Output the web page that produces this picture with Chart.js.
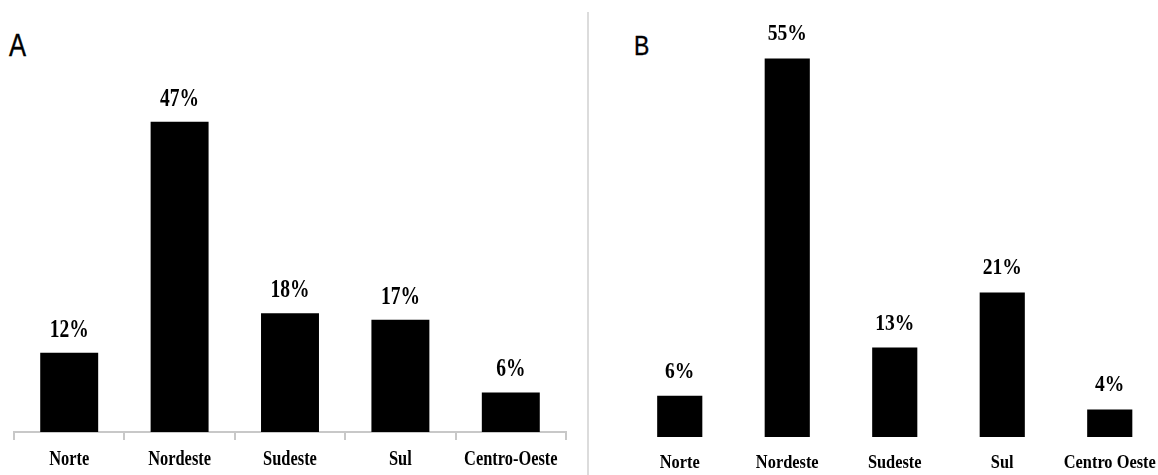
<!DOCTYPE html>
<html>
<head>
<meta charset="utf-8">
<script src="https://cdn.jsdelivr.net/npm/chart.js@4/dist/chart.umd.min.js"></script>
<style>
  body { margin: 0; width: 1158px; height: 475px; overflow: hidden; background: #fff; position: relative; }
  canvas { position: absolute; top: 0; }
  #chartA { left: 0; }
  #chartB { left: 590px; }
  .divider { position: absolute; left: 587px; top: 12px; width: 2px; height: 463px; background: #dcdcdc; }
  .panel { position: absolute; font-family: "Liberation Sans", sans-serif; color: #000; transform-origin: left top; line-height: 1; }
  #panelA { left: 9px; top: 29px; font-size: 32px; transform: scaleX(0.8); -webkit-text-stroke: 0.4px #000; }
  #panelB { left: 634px; top: 32px; font-size: 28px; transform: scaleX(0.82); -webkit-text-stroke: 0.4px #000; }
</style>
</head>
<body>
<div class="divider"></div>
<div class="panel" id="panelA">A</div>
<div class="panel" id="panelB">B</div>
<canvas id="chartA" width="590" height="475"></canvas>
<canvas id="chartB" width="580" height="475"></canvas>
<script>
var categoriesA = ["Norte", "Nordeste", "Sudeste", "Sul", "Centro-Oeste"];
var valuesA = [12, 47, 18, 17, 6];
var categoriesB = ["Norte", "Nordeste", "Sudeste", "Sul", "Centro Oeste"];
var valuesB = [6, 55, 13, 21, 4];

// draws a narrowed (condensed-looking) string, like the bold Times of the original
function drawNarrow(ctx, text, x, y, font, squeeze) {
  ctx.save();
  ctx.translate(x, y);
  ctx.scale(squeeze, 1);
  ctx.font = font;
  ctx.fillText(text, 0, 0);
  ctx.restore();
}

var barLabels = {
  id: "barLabels",
  afterDatasetsDraw: function (chart, args, opts) {
    var ctx = chart.ctx;
    var meta = chart.getDatasetMeta(0);
    var xScale = chart.scales.x;
    var data = chart.data.datasets[0].data;
    ctx.save();
    ctx.fillStyle = "#000";
    ctx.textAlign = "center";
    ctx.textBaseline = "alphabetic";
    meta.data.forEach(function (bar, i) {
      drawNarrow(ctx, data[i] + "%", bar.x, bar.y - opts.valueGap, opts.valueFont, opts.valueSqueeze);
      drawNarrow(ctx, chart.data.labels[i], xScale.getPixelForValue(i), opts.labelY, opts.labelFont, opts.labelSqueeze);
    });
    ctx.restore();
  },
};

function drawBarChart(canvasId, labels, values, opts) {
  var ctx = document.getElementById(canvasId);
  new Chart(ctx, {
    type: "bar",
    data: {
      labels: labels,
      datasets: [
        {
          data: values,
          backgroundColor: "#000",
          borderWidth: 0,
          barPercentage: opts.barPercentage,
          categoryPercentage: 1,
        },
      ],
    },
    plugins: [barLabels],
    options: {
      responsive: false,
      animation: false,
      layout: { padding: opts.padding },
      plugins: {
        legend: { display: false },
        tooltip: { enabled: false },
        barLabels: opts.labels,
      },
      scales: {
        x: {
          display: opts.showAxis,
          offset: true,
          grid: {
            display: true,
            offset: true,
            drawOnChartArea: false,
            drawTicks: true,
            tickLength: 8,
            color: "#c8c8c8",
            lineWidth: 2,
          },
          border: { display: true, color: "#c8c8c8", width: 2 },
          ticks: { display: false },
        },
        y: {
          display: false,
          min: 0,
          max: 60,
        },
      },
    },
  });
}

drawBarChart("chartA", categoriesA, valuesA, {
  barPercentage: 0.525,
  showAxis: true,
  padding: { left: 14, right: 24, top: 36, bottom: 35 },
  labels: {
    valueGap: 16,
    valueFont: 'bold 26px "Liberation Serif"',
    valueSqueeze: 0.75,
    labelY: 465,
    labelFont: 'bold 20px "Liberation Serif"',
    labelSqueeze: 0.82,
  },
});

drawBarChart("chartB", categoriesB, valuesB, {
  barPercentage: 0.42,
  showAxis: false,
  padding: { left: 36, right: 6.5, top: 24, bottom: 38 },
  labels: {
    valueGap: 18,
    valueFont: 'bold 23px "Liberation Serif"',
    valueSqueeze: 0.85,
    labelY: 468,
    labelFont: 'bold 18px "Liberation Serif"',
    labelSqueeze: 0.91,
  },
});
</script>
</body>
</html>
